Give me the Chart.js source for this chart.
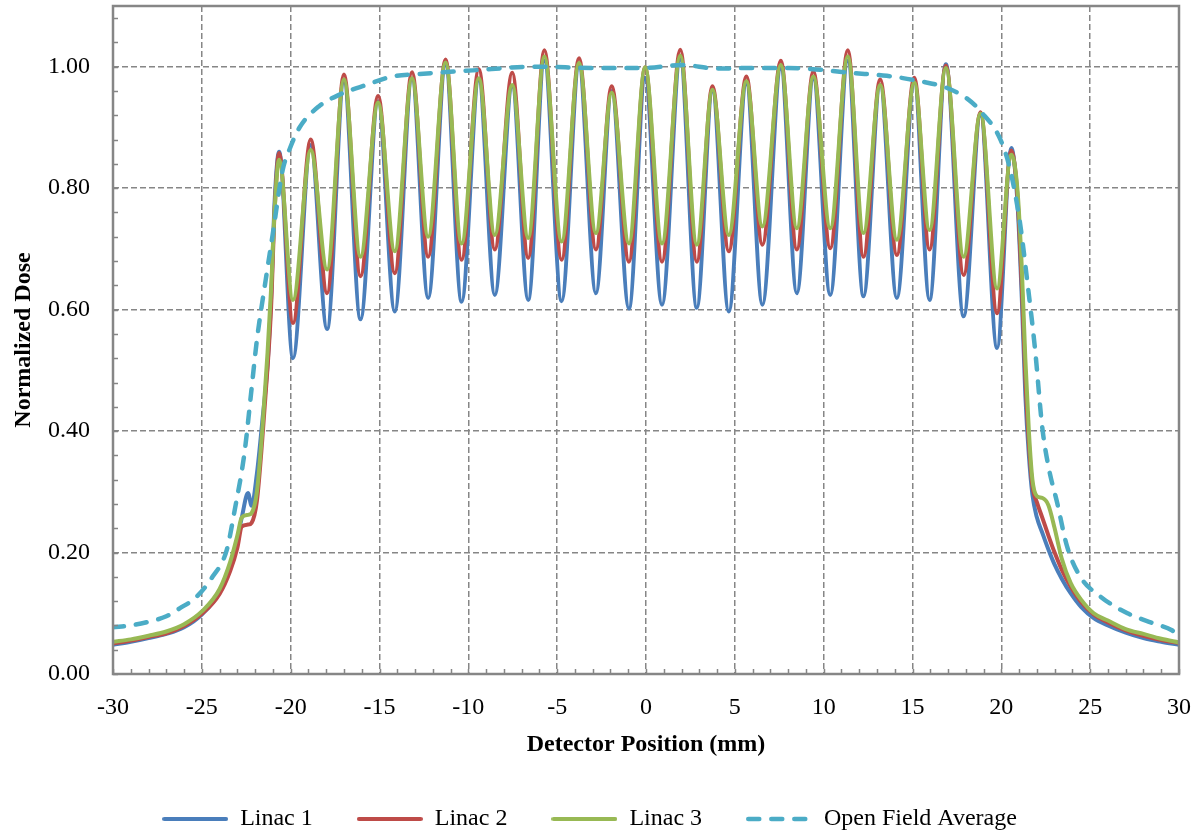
<!DOCTYPE html>
<html>
<head>
<meta charset="utf-8">
<script src="https://cdn.jsdelivr.net/npm/chart.js@4"></script>
<style>
  html, body { margin: 0; padding: 0; background: #fff; }
  #wrap { width: 1199px; height: 832px; position: relative; }
</style>
</head>
<body>
<div id="wrap"><canvas id="dose"></canvas></div>
<script>
// detector positions (mm) read for the three linac profiles
const positions = [
  -30, -29, -28, -27, -26, -25, -24, -23.4, -23.0, -22.75, -22.4, -22.2, -21.9, -21.6, -21.3, -21.1, -20.9,
  -20.65, -19.87, -18.87, -17.95, -17.0, -16.07, -15.08, -14.14, -13.17, -12.26, -11.28, -10.38, -9.41, -8.51,
  -7.53, -6.63, -5.72, -4.75, -3.77, -2.82, -1.93, -0.96, -0.05, 0.9, 1.93, 2.86, 3.74, 4.66, 5.65, 6.55,
  7.59, 8.49, 9.42, 10.37, 11.36, 12.24, 13.18, 14.12, 15.1, 15.96, 16.88, 17.88, 18.83, 19.76, 20.56,
  20.9, 21.15, 21.35, 21.55, 21.75, 22.0, 22.3, 22.65, 23.0, 23.4, 23.9, 24.5, 25.2, 26.0, 27.0, 28.0, 29.0, 30.0
];

const linac1 = [
  0.048, 0.053, 0.059, 0.066, 0.077, 0.098, 0.135, 0.180, 0.222, 0.258, 0.298, 0.277, 0.330, 0.415, 0.510, 0.620, 0.780,
  0.860, 0.520, 0.871, 0.568, 0.975, 0.584, 0.943, 0.597, 0.980, 0.619, 1.003, 0.613, 0.978, 0.624,
  0.968, 0.616, 1.010, 0.614, 1.000, 0.627, 0.960, 0.602, 0.982, 0.608, 1.012, 0.603, 0.960, 0.597, 0.972, 0.608,
  0.997, 0.627, 0.980, 0.624, 1.010, 0.622, 0.970, 0.619, 0.975, 0.616, 1.004, 0.589, 0.920, 0.537, 0.866,
  0.780, 0.620, 0.460, 0.360, 0.295, 0.258, 0.233, 0.205, 0.180, 0.157, 0.133, 0.110, 0.092, 0.080, 0.068, 0.059, 0.053, 0.048
];

const linac2 = [
  0.050, 0.055, 0.061, 0.067, 0.079, 0.099, 0.132, 0.170, 0.208, 0.243, 0.246, 0.249, 0.285, 0.385, 0.505, 0.605, 0.765,
  0.858, 0.578, 0.880, 0.627, 0.987, 0.655, 0.952, 0.660, 0.991, 0.687, 1.012, 0.682, 0.996, 0.699,
  0.990, 0.685, 1.027, 0.682, 1.014, 0.699, 0.968, 0.679, 0.999, 0.679, 1.028, 0.679, 0.968, 0.696, 0.984, 0.707,
  1.010, 0.699, 0.992, 0.701, 1.027, 0.687, 0.979, 0.690, 0.982, 0.699, 1.002, 0.657, 0.925, 0.594, 0.862,
  0.790, 0.640, 0.490, 0.380, 0.310, 0.283, 0.258, 0.228, 0.200, 0.172, 0.144, 0.118, 0.098, 0.085, 0.072, 0.063, 0.056, 0.051
];

const linac3 = [
  0.053, 0.057, 0.063, 0.070, 0.082, 0.103, 0.140, 0.185, 0.228, 0.258, 0.262, 0.265, 0.300, 0.400, 0.530, 0.635, 0.765,
  0.847, 0.616, 0.863, 0.666, 0.979, 0.687, 0.941, 0.696, 0.981, 0.720, 1.007, 0.709, 0.981, 0.723,
  0.970, 0.718, 1.017, 0.712, 1.006, 0.726, 0.957, 0.709, 0.999, 0.709, 1.018, 0.707, 0.962, 0.723, 0.976, 0.737,
  1.003, 0.734, 0.984, 0.734, 1.017, 0.726, 0.970, 0.715, 0.974, 0.731, 0.998, 0.687, 0.923, 0.635, 0.855,
  0.800, 0.670, 0.520, 0.400, 0.320, 0.293, 0.290, 0.278, 0.240, 0.190, 0.150, 0.122, 0.100, 0.088, 0.074, 0.066, 0.058, 0.052
];

// open field profile has its own sampling
const openPositions = [
  -30, -29, -28, -27, -26.25, -25.3, -24.4, -23.6, -23.15, -22.6, -22.2, -21.9, -21.4, -21.0, -20.45, -20.05, -19.5,
  -18.4, -17.25, -15.75, -14.25, -12.75, -9.75, -6.15, -3, 0, 2, 4, 6, 8, 9.8, 11.5, 13.55, 15.45, 16.95, 18.05,
  18.85, 19.95, 20.5, 21.05, 21.45, 21.9, 22.3, 22.65, 23.15, 23.7, 24.45, 25.6, 27.1, 28.6, 29.6, 30
];
const openField = [
  0.077, 0.080, 0.086, 0.095, 0.108, 0.127, 0.160, 0.204, 0.270, 0.364, 0.470, 0.550, 0.650, 0.726, 0.830, 0.865, 0.900,
  0.935, 0.954, 0.970, 0.984, 0.988, 0.994, 1.000, 0.998, 0.998, 1.003, 0.997, 0.998, 0.998, 0.995, 0.990, 0.985, 0.976, 0.965, 0.948,
  0.926, 0.880, 0.830, 0.743, 0.649, 0.534, 0.407, 0.342, 0.281, 0.210, 0.160, 0.127, 0.100, 0.083, 0.072, 0.062
];

const seriesNames = ['Linac 1', 'Linac 2', 'Linac 3', 'Open Field Average'];
const seriesColors = ['#4a7ebb', '#be4b48', '#98b954', '#4bacc6'];
const X_MIN = -30, X_MAX = 30, X_STEP = 5;
const Y_MIN = 0, Y_MAX = 1.1, Y_STEP = 0.2;

const FONT = "'Liberation Serif', 'Times New Roman', serif";
const AXIS_GREY = '#868686';

const toPoints = (xs, ys) => xs.map((x, i) => ({ x: x, y: ys[i] }));

// little canvas used as the legend symbol, so the dashed series keeps its dashes
function legendLine(color, width, dash) {
  const c = document.createElement('canvas');
  c.width = 66;
  c.height = 8;
  const g = c.getContext('2d');
  g.strokeStyle = color;
  g.lineWidth = width;
  g.lineCap = 'round';
  g.setLineDash(dash);
  g.beginPath();
  g.moveTo(width / 2, 4);
  g.lineTo(66 - width / 2, 4);
  g.stroke();
  return c;
}

// Excel style: frame round the plot and small inside tick marks
const frameAndMinorTicks = {
  id: 'frameAndMinorTicks',
  afterDatasetsDraw(chart) {
    const { ctx, chartArea: a, scales } = chart;
    const x = scales.x, y = scales.y;
    ctx.save();
    ctx.strokeStyle = AXIS_GREY;
    ctx.lineWidth = 1.5;
    ctx.beginPath();
    for (let v = X_MIN; v <= X_MAX; v += 1) {
      const px = Math.round(x.getPixelForValue(v)) + 0.5;
      ctx.moveTo(px, a.bottom);
      ctx.lineTo(px, a.bottom - 5);
    }
    for (let i = 0; i <= 27; i++) {
      const py = Math.round(y.getPixelForValue(i * 0.04)) + 0.5;
      ctx.moveTo(a.left, py);
      ctx.lineTo(a.left + 5, py);
    }
    ctx.stroke();
    ctx.lineWidth = 2.5;
    ctx.strokeRect(a.left, a.top, a.right - a.left, a.bottom - a.top);
    ctx.restore();
  }
};

const lineBase = {
  pointRadius: 0,
  pointHoverRadius: 0,
  borderWidth: 4,
  fill: false,
  cubicInterpolationMode: 'monotone',
  borderCapStyle: 'round',
  borderJoinStyle: 'round'
};

new Chart(document.getElementById('dose'), {
  type: 'line',
  data: {
    datasets: [
      { ...lineBase, label: seriesNames[0], data: toPoints(positions, linac1), borderColor: seriesColors[0],
        backgroundColor: seriesColors[0], pointStyle: legendLine(seriesColors[0], 4, []), order: 4 },
      { ...lineBase, label: seriesNames[1], data: toPoints(positions, linac2), borderColor: seriesColors[1],
        backgroundColor: seriesColors[1], pointStyle: legendLine(seriesColors[1], 4, []), order: 3 },
      { ...lineBase, label: seriesNames[2], data: toPoints(positions, linac3), borderColor: seriesColors[2],
        backgroundColor: seriesColors[2], pointStyle: legendLine(seriesColors[2], 4, []), order: 2 },
      { ...lineBase, label: seriesNames[3], data: toPoints(openPositions, openField), borderColor: seriesColors[3],
        backgroundColor: seriesColors[3], pointStyle: legendLine(seriesColors[3], 4.5, [11, 12]),
        borderWidth: 4.5, borderDash: [11, 12], order: 1 }
    ]
  },
  options: {
    responsive: true,
    maintainAspectRatio: false,
    animation: false,
    layout: { padding: { top: 6, right: 20, left: 0, bottom: 0 } },
    plugins: {
      tooltip: { enabled: false },
      legend: {
        position: 'bottom',
        maxHeight: 69,
        labels: {
          usePointStyle: true,
          pointStyleWidth: 66,
          padding: 44,
          color: '#000',
          font: { family: FONT, size: 24 },
          sort: (a, b) => a.datasetIndex - b.datasetIndex
        }
      }
    },
    scales: {
      x: {
        type: 'linear',
        min: X_MIN,
        max: X_MAX,
        ticks: { stepSize: X_STEP, padding: 19, color: '#000', font: { family: FONT, size: 24 } },
        grid: { color: AXIS_GREY, lineWidth: 1.5, drawTicks: false },
        border: { display: false, dash: [6, 3] },
        title: {
          display: true,
          text: 'Detector Position (mm)',
          color: '#000',
          font: { family: FONT, size: 24, weight: 'bold' },
          padding: { top: 0, bottom: 4 }
        },
        afterFit: (s) => { s.height = 89; s.paddingLeft = 0; s.paddingRight = 0; }
      },
      y: {
        min: Y_MIN,
        max: Y_MAX,
        ticks: {
          stepSize: Y_STEP,
          includeBounds: false,
          padding: 23,
          color: '#000',
          font: { family: FONT, size: 24 },
          callback: (v) => Number(v).toFixed(2)
        },
        grid: { color: AXIS_GREY, lineWidth: 1.5, drawTicks: false },
        border: { display: false, dash: [6, 3] },
        title: {
          display: true,
          text: 'Normalized Dose',
          color: '#000',
          font: { family: FONT, size: 24, weight: 'bold' },
          padding: { top: 9, bottom: 0 }
        },
        afterFit: (s) => { s.width = 113; s.paddingTop = 0; s.paddingBottom = 0; }
      }
    }
  },
  plugins: [frameAndMinorTicks]
});
</script>
</body>
</html>
